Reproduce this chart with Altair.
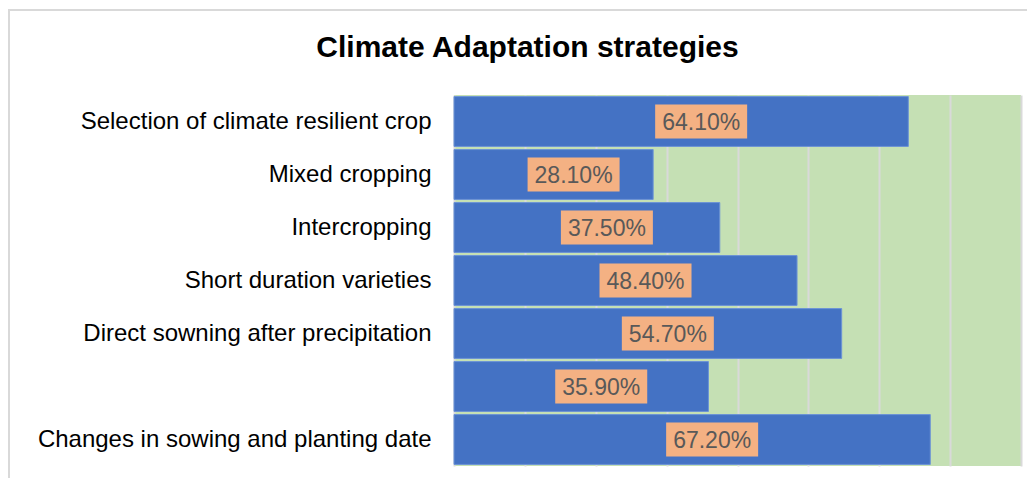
import altair as alt
import pandas as pd

categories = [
    "Selection of climate resilient crop",
    "Mixed cropping",
    "Intercropping",
    "Short duration varieties",
    "Direct sowning after precipitation",
    " ",
    "Changes in sowing and planting date",
]
values = [0.641, 0.281, 0.375, 0.484, 0.547, 0.359, 0.672]

df = pd.DataFrame({"Strategy": categories, "Value": values})

FONT = "Liberation Sans"
W, H = 567, 371
LABEL_SHIFT = 20

y_enc = alt.Y(
    "Strategy:N",
    sort=categories,
    scale=alt.Scale(paddingInner=0.06, paddingOuter=0.03),
    axis=alt.Axis(
        title=None, ticks=False, domain=False, labelFontSize=24,
        labelFont=FONT, labelColor="#000000", labelPadding=23, labelLimit=0,
    ),
)
x_scale = alt.Scale(domain=[0, 0.8], nice=False)

base = alt.Chart(df)

bars = base.mark_bar(color="#4472C4", stroke="#6C93D6", strokeWidth=1).encode(
    x=alt.X(
        "Value:Q",
        scale=x_scale,
        axis=alt.Axis(
            title=None, labels=False, ticks=False, domain=False, grid=True,
            values=[0, 0.1, 0.2, 0.3, 0.4, 0.5, 0.6, 0.7, 0.8],
            gridColor="#D9D9D9", gridWidth=2,
        ),
    ),
    y=y_enc,
)

boxes = base.transform_calculate(mid="datum.Value / 2").mark_point(
    shape="M-1,-0.37L1,-0.37L1,0.37L-1,0.37Z",
    size=8464, filled=True, fill="#F4B183", opacity=1, strokeWidth=0,
    xOffset=LABEL_SHIFT,
).encode(
    x=alt.X("mid:Q", scale=x_scale),
    y=alt.Y("Strategy:N", sort=categories),
)

labels = base.transform_calculate(mid="datum.Value / 2").mark_text(
    font=FONT, fontSize=23, color="#595959", baseline="middle", align="center",
    dy=1, dx=LABEL_SHIFT,
).encode(
    x=alt.X("mid:Q", scale=x_scale),
    y=alt.Y("Strategy:N", sort=categories),
    text=alt.Text("Value:Q", format=".2%"),
)

border = alt.Chart(alt.Data(values=[{}])).mark_rect(
    fill=None, filled=False, stroke="#D9D9D9", strokeWidth=2,
).encode(
    x=alt.value(-445), x2=alt.value(600), y=alt.value(-85), y2=alt.value(420),
)

chart = alt.layer(border, bars, boxes, labels).properties(
    width=W, height=H,
    title=alt.TitleParams(
        "Climate Adaptation strategies", font=FONT, fontSize=30, fontWeight="bold",
        color="#000000", anchor="middle", frame="group", dx=-210, offset=-54,
    ),
    background="#FFFFFF",
    autosize=alt.AutoSizeParams(type="none"),
    padding={"left": 446, "top": 87, "right": 6, "bottom": 12},
).configure_view(fill="#C5E0B4", stroke=None)

chart.save("out.html", embed_options={"renderer": "svg", "actions": False})
